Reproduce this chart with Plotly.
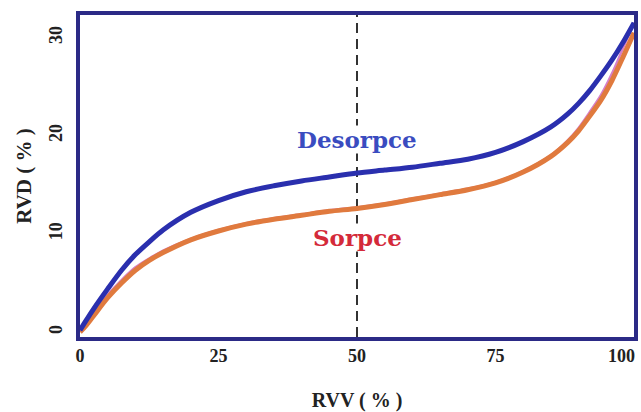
import plotly.graph_objects as go

# Relative vapour pressure (RVV, %) vs. equilibrium moisture content (RVD, %)
rvv = [0, 1, 2.5, 5, 7.5, 10, 12.5, 15, 20, 25, 30, 35, 40, 45, 50, 55, 60,
       65, 70, 75, 80, 85, 88, 90, 92, 94, 96, 98, 100]

desorpce = [0.2, 1.1, 2.4, 4.4, 6.3, 7.9, 9.2, 10.4, 12.2, 13.4, 14.3, 14.9,
            15.4, 15.8, 16.2, 16.5, 16.8, 17.2, 17.6, 18.3, 19.4, 20.9, 22.2,
            23.3, 24.6, 26.1, 27.7, 29.5, 31.5]

sorpce = [0.0, 0.6, 1.7, 3.5, 5.0, 6.3, 7.3, 8.1, 9.4, 10.3, 11.0, 11.5,
          11.9, 12.3, 12.6, 13.0, 13.5, 14.0, 14.5, 15.2, 16.3, 17.9, 19.3,
          20.5, 22.0, 23.6, 25.6, 28.0, 30.5]

# thin underlying fitted curve (shows at both ends of the sorption branch)
fit = [0.1, 0.8, 2.0, 3.8, 5.3, 6.6, 7.5, 8.3, 9.5, 10.4, 11.1, 11.6,
       12.0, 12.4, 12.7, 13.1, 13.6, 14.1, 14.6, 15.3, 16.4, 18.0, 19.5,
       20.8, 22.4, 24.1, 26.3, 28.9, 31.5]

x_ticks = [0, 25, 50, 75, 100]
y_ticks = [0, 10, 20, 30]
split_rvv = 50

serif = "Liberation Serif"
label_serif = "DejaVu Serif"

fig = go.Figure()
fig.add_trace(go.Scatter(x=rvv, y=fit, mode="lines",
                         line=dict(color="#d67fc9", width=2.5, shape="spline", smoothing=0.8),
                         hoverinfo="skip", showlegend=False))
fig.add_trace(go.Scatter(x=rvv, y=sorpce, mode="lines", name="Sorpce",
                         line=dict(color="#e07a3e", width=5, shape="spline", smoothing=0.8),
                         showlegend=False))
fig.add_trace(go.Scatter(x=rvv, y=desorpce, mode="lines", name="Desorpce",
                         line=dict(color="#2a2fae", width=5, shape="spline", smoothing=0.8),
                         showlegend=False))

fig.add_shape(type="line", x0=split_rvv, x1=split_rvv, xref="x",
              y0=0, y1=1, yref="paper",
              line=dict(color="black", width=1.6, dash="10px,6px"),
              layer="below")

fig.add_annotation(x=split_rvv, y=19.6, text="<b>Desorpce</b>", showarrow=False,
                   font=dict(family=label_serif, size=23, color="#3a4cc0"),
                   bgcolor="white", borderpad=0)
fig.add_annotation(x=split_rvv, y=9.6, text="<b>Sorpce</b>", showarrow=False,
                   font=dict(family=label_serif, size=23, color="#d42a3a"),
                   bgcolor="white", borderpad=0)

axis_font = dict(family=serif, size=18, color="#222222", weight="bold")

# the last x tick label sits flush with the right end of the axis
x_labels = [str(v) for v in x_ticks]
last_label = x_labels[-1]
x_labels[-1] = ""
fig.add_annotation(x=x_ticks[-1], xref="x", y=0, yref="paper",
                   xanchor="right", yanchor="middle", xshift=3, yshift=-19,
                   text=last_label, showarrow=False, font=axis_font)

fig.update_xaxes(range=[0, 100], tickvals=x_ticks, ticktext=x_labels,
                 showgrid=False, zeroline=False, showline=True, mirror=True,
                 linecolor="#2b2a86", linewidth=3.5, ticks="",
                 tickfont=axis_font, automargin=False,
                 title=dict(text="<b>RVV ( % )</b>", standoff=32,
                            font=dict(family=serif, size=20, color="#222222")))
fig.update_yaxes(range=[-0.5, 32.3], tickvals=y_ticks, ticktext=[str(v) for v in y_ticks],
                 showgrid=False, zeroline=False, showline=True, mirror=True,
                 linecolor="#2b2a86", linewidth=3.5, ticks="", tickangle=-90,
                 tickfont=axis_font, ticklabelstandoff=7, automargin=False,
                 title=dict(text="<b>RVD ( % )</b>", standoff=10,
                            font=dict(family=serif, size=21, color="#222222")))

fig.update_layout(width=641, height=412,
                  margin=dict(l=80, r=7, t=15, b=75),
                  paper_bgcolor="white", plot_bgcolor="white")

fig.write_html("out.html")
